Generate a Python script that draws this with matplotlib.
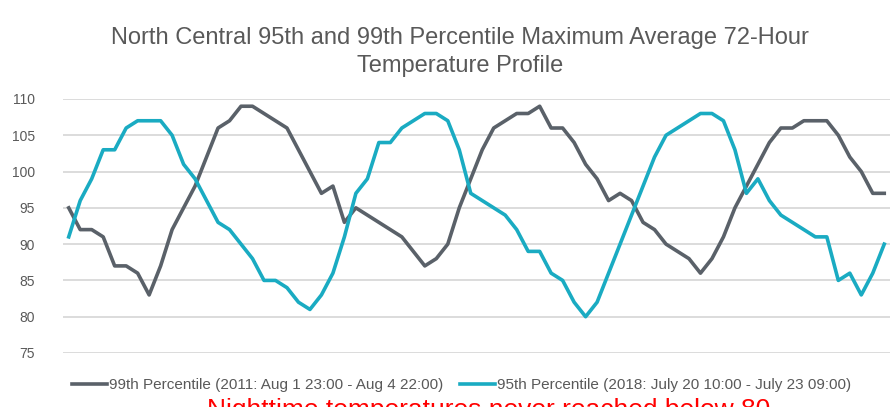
import matplotlib
matplotlib.use("Agg")
import matplotlib.pyplot as plt

# hourly values, 72 hours each
p99_2011 = [95, 92, 92, 91, 87, 87, 86, 83, 87, 92, 95, 98, 102, 106, 107, 109,
            109, 108, 107, 106, 103, 100, 97, 98, 93, 95, 94, 93, 92, 91, 89, 87,
            88, 90, 95, 99, 103, 106, 107, 108, 108, 109, 106, 106, 104, 101, 99, 96,
            97, 96, 93, 92, 90, 89, 88, 86, 88, 91, 95, 98, 101, 104, 106, 106,
            107, 107, 107, 105, 102, 100, 97, 97]
p95_2018 = [91, 96, 99, 103, 103, 106, 107, 107, 107, 105, 101, 99, 96, 93, 92, 90,
            88, 85, 85, 84, 82, 81, 83, 86, 91, 97, 99, 104, 104, 106, 107, 108,
            108, 107, 103, 97, 96, 95, 94, 92, 89, 89, 86, 85, 82, 80, 82, 86,
            90, 94, 98, 102, 105, 106, 107, 108, 108, 107, 103, 97, 99, 96, 94, 93,
            92, 91, 91, 85, 86, 83, 86, 90]
hours = list(range(len(p99_2011)))
y_ticks = [75, 80, 85, 90, 95, 100, 105, 110]

label_99 = "99th Percentile (2011: Aug 1 23:00 - Aug 4 22:00)"
label_95 = "95th Percentile (2018: July 20 10:00 - July 23 09:00)"

plt.rcParams["font.family"] = ["Liberation Sans", "DejaVu Sans"]
text_color = "#595959"

fig = plt.figure(figsize=(8.96, 4.07), dpi=100)
ax = fig.add_axes([0.0703, 0.1327, 0.923, 0.6241])

ax.plot(hours, p99_2011, color="#5a6169", linewidth=2.6, label=label_99)
ax.plot(hours, p95_2018, color="#1aabc2", linewidth=2.6, label=label_95)

ax.set_xlim(-0.5, len(hours) - 0.5)
ax.set_ylim(75, 110)
ax.set_yticks(y_ticks)
ax.set_xticks([])
ax.yaxis.grid(True, color="#d9d9d9", linewidth=1.3)
ax.set_axisbelow(True)
for s in ax.spines.values():
    s.set_visible(False)
ax.tick_params(axis="y", length=0, pad=20, labelsize=10, labelcolor=text_color)

# title, two lines
fig.text(0.513, 1 - 38 / 407, "North Central 95th and 99th Percentile Maximum Average 72-Hour",
         ha="center", va="center", fontsize=17, color=text_color)
fig.text(0.513, 1 - 66 / 407, "Temperature Profile",
         ha="center", va="center", fontsize=17, color=text_color)

leg = fig.legend(loc="center", bbox_to_anchor=(0.515, 1 - 385 / 407), ncol=2,
                 frameon=False, fontsize=11, handlelength=2.3, handletextpad=0.1,
                 columnspacing=1.1)
for t in leg.get_texts():
    t.set_color(text_color)

# red caption, cut off at the bottom edge as in the source image
fig.text(0.545, 1 - 398 / 407, "Nighttime temperatures never reached below 80",
         ha="center", va="top", fontsize=19, color="#ff0000")

fig.savefig("out.png", dpi=100)
